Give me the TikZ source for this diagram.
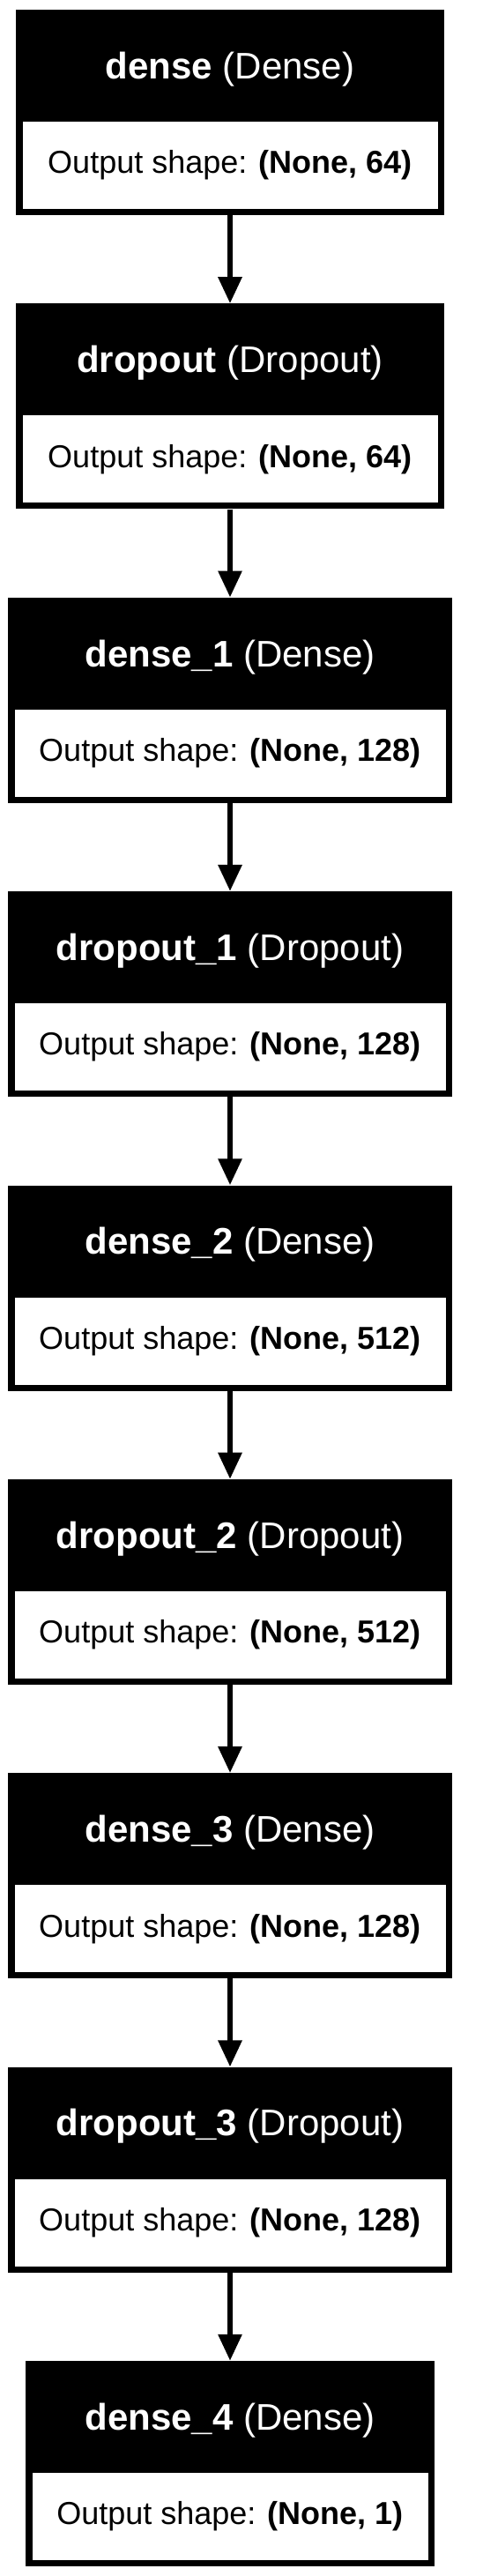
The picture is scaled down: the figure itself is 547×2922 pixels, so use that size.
\documentclass[tikz,border=0pt]{standalone}
\usepackage{fontspec}
\setsansfont{Liberation Sans}
\usetikzlibrary{arrows.meta}

\begin{document}
\begin{tikzpicture}[x=1pt, y=-1pt, font=\sffamily,
    layer/.style={fill=black, draw=none, inner sep=0pt, minimum height=233pt},
    title/.style={text=white, anchor=base, inner sep=0pt, font=\sffamily\fontsize{42pt}{50pt}\selectfont},
    outbox/.style={fill=white, draw=none, inner sep=0pt, minimum height=99pt, anchor=south,
        font=\sffamily\fontsize{36pt}{43pt}\selectfont},
    flow/.style={line width=6pt, -{Triangle[length=30pt, width=26pt]}}]

    % Page
    \useasboundingbox[fill=white] (0,0) rectangle (547,2922);

    % dense (Dense)
    \node[layer, minimum width=486pt] (dense) at (261,127.5) {};
    \node[title] (dense-title) at ([yshift=-78.5pt]dense.north) {\textbf{dense} (Dense)};
    \node[outbox, minimum width=471pt] (dense-out) at ([yshift=7pt]dense.south) {Output shape: \textbf{(None, 64)}};

    % dropout (Dropout)
    \node[layer, minimum width=486pt] (dropout) at (261,460.9) {};
    \node[title] (dropout-title) at ([yshift=-78.5pt]dropout.north) {\textbf{dropout} (Dropout)};
    \node[outbox, minimum width=471pt] (dropout-out) at ([yshift=7pt]dropout.south) {Output shape: \textbf{(None, 64)}};

    % dense_1 (Dense)
    \node[layer, minimum width=504pt] (dense1) at (261,794.25) {};
    \node[title] (dense1-title) at ([yshift=-78.5pt]dense1.north) {\textbf{dense\_1} (Dense)};
    \node[outbox, minimum width=489pt] (dense1-out) at ([yshift=7pt]dense1.south) {Output shape: \textbf{(None, 128)}};

    % dropout_1 (Dropout)
    \node[layer, minimum width=504pt] (dropout1) at (261,1127.6) {};
    \node[title] (dropout1-title) at ([yshift=-78.5pt]dropout1.north) {\textbf{dropout\_1} (Dropout)};
    \node[outbox, minimum width=489pt] (dropout1-out) at ([yshift=7pt]dropout1.south) {Output shape: \textbf{(None, 128)}};

    % dense_2 (Dense)
    \node[layer, minimum width=504pt] (dense2) at (261,1461) {};
    \node[title] (dense2-title) at ([yshift=-78.5pt]dense2.north) {\textbf{dense\_2} (Dense)};
    \node[outbox, minimum width=489pt] (dense2-out) at ([yshift=7pt]dense2.south) {Output shape: \textbf{(None, 512)}};

    % dropout_2 (Dropout)
    \node[layer, minimum width=504pt] (dropout2) at (261,1794.4) {};
    \node[title] (dropout2-title) at ([yshift=-78.5pt]dropout2.north) {\textbf{dropout\_2} (Dropout)};
    \node[outbox, minimum width=489pt] (dropout2-out) at ([yshift=7pt]dropout2.south) {Output shape: \textbf{(None, 512)}};

    % dense_3 (Dense)
    \node[layer, minimum width=504pt] (dense3) at (261,2127.75) {};
    \node[title] (dense3-title) at ([yshift=-78.5pt]dense3.north) {\textbf{dense\_3} (Dense)};
    \node[outbox, minimum width=489pt] (dense3-out) at ([yshift=7pt]dense3.south) {Output shape: \textbf{(None, 128)}};

    % dropout_3 (Dropout)
    \node[layer, minimum width=504pt] (dropout3) at (261,2461.1) {};
    \node[title] (dropout3-title) at ([yshift=-78.5pt]dropout3.north) {\textbf{dropout\_3} (Dropout)};
    \node[outbox, minimum width=489pt] (dropout3-out) at ([yshift=7pt]dropout3.south) {Output shape: \textbf{(None, 128)}};

    % dense_4 (Dense)
    \node[layer, minimum width=464pt] (dense4) at (261,2794.5) {};
    \node[title] (dense4-title) at ([yshift=-78.5pt]dense4.north) {\textbf{dense\_4} (Dense)};
    \node[outbox, minimum width=449pt] (dense4-out) at ([yshift=7pt]dense4.south) {Output shape: \textbf{(None, 1)}};

    % Connections
    \draw[flow] (dense.south) -- (dropout.north);
    \draw[flow] (dropout.south) -- (dense1.north);
    \draw[flow] (dense1.south) -- (dropout1.north);
    \draw[flow] (dropout1.south) -- (dense2.north);
    \draw[flow] (dense2.south) -- (dropout2.north);
    \draw[flow] (dropout2.south) -- (dense3.north);
    \draw[flow] (dense3.south) -- (dropout3.north);
    \draw[flow] (dropout3.south) -- (dense4.north);

\end{tikzpicture}
\end{document}
